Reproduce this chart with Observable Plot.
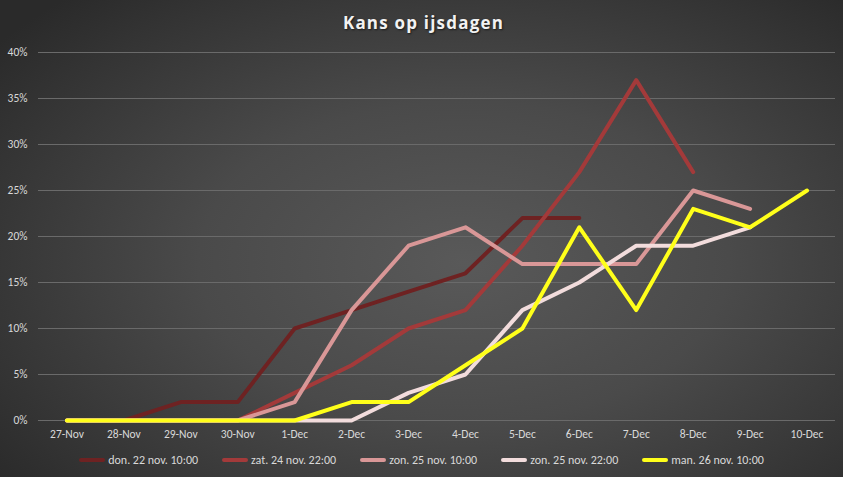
<!DOCTYPE html>
<html><head><meta charset="utf-8">
<script src="https://cdn.jsdelivr.net/npm/d3@7"></script>
<script src="https://cdn.jsdelivr.net/npm/@observablehq/plot@0.6"></script>
<style>
html,body{margin:0;padding:0;}
#wrap{width:843px;height:477px;position:relative;overflow:hidden;
 background:radial-gradient(ellipse 70% 75% at 55% 55%, #595959 0%, #4a4a4a 45%, #333333 85%, #2a2a2a 100%);
 font-family:Carlito,"Liberation Sans Narrow","Open Sans",sans-serif;}
#title{height:44px;line-height:46px;text-align:center;color:#f2f2f2;font-family:"Open Sans",sans-serif;font-weight:700;font-size:17px;letter-spacing:1.2px;text-shadow:1px 1px 2px rgba(0,0,0,0.6);padding-left:4px;}
#legend{position:absolute;top:453px;left:0;width:843px;display:flex;justify-content:center;gap:0;color:#d9d9d9;font-size:12px;}
.item{display:flex;align-items:center;margin:0 12px;}
.sw{width:26px;height:4px;margin-right:3px;border-radius:2px;}
svg{display:block;background:transparent;}
</style></head>
<body><div id="wrap"><div id="title">Kans op ijsdagen</div><div id="chart"></div><div id="legend"></div></div>
<script>
const dates = ["27-Nov","28-Nov","29-Nov","30-Nov","1-Dec","2-Dec","3-Dec","4-Dec","5-Dec","6-Dec","7-Dec","8-Dec","9-Dec","10-Dec"];
const seriesNames = ["don. 22 nov. 10:00","zat. 24 nov. 22:00","zon. 25 nov. 10:00","zon. 25 nov. 22:00","man. 26 nov. 10:00"];
const colors = ["#6e2222","#a33a3a","#d99797","#f2dcdc","#ffff1a"];
const don22 = [0,0,2,2,10,12,14,16,22,22];
const zat24 = [0,0,0,0,3,6,10,12,19,27,37,27];
const zon25a = [0,0,0,0,2,12,19,21,17,17,17,25,23];
const zon25b = [0,0,0,0,0,0,3,5,12,15,19,19,21];
const man26 = [0,0,0,0,0,2,2,6,10,21,12,23,21,25];
const yTicks = [0,5,10,15,20,25,30,35,40];

const allVals = [don22,zat24,zon25a,zon25b,man26];
const data = [];
allVals.forEach((arr,si)=>arr.forEach((v,i)=>data.push({series:seriesNames[si],date:dates[i],value:v/100})));

const chart = Plot.plot({
  width:843, height:400,
  marginLeft:38, marginRight:8, marginTop:8, marginBottom:24,
  style:{background:"transparent",color:"#d9d9d9",fontFamily:"Carlito,'Liberation Sans Narrow','Open Sans',sans-serif",fontSize:"11.5px"},
  x:{type:"point",domain:dates,padding:0.5,round:false,label:null,tickSize:0,tickPadding:9},
  y:{domain:[0,0.4],label:null,tickFormat:d=>Math.round(d*100)+"%",ticks:yTicks.map(t=>t/100),tickSize:0,tickPadding:11},
  color:{domain:seriesNames,range:colors},
  marks:[
    Plot.ruleY(yTicks.map(t=>t/100),{stroke:"#6a6a6a",strokeWidth:1}),
    Plot.axisX({tickSize:0,tickPadding:9,fontSize:11.5}),
    Plot.axisY({ticks:yTicks.map(t=>t/100),tickFormat:d=>Math.round(d*100)+"%",tickSize:0,tickPadding:11,fontSize:11.5}),
    Plot.lineY(data,{x:"date",y:"value",z:"series",stroke:"series",strokeWidth:4,strokeLinejoin:"round",strokeLinecap:"round"})
  ]
});
document.getElementById("chart").appendChild(chart);

const leg = document.getElementById("legend");
seriesNames.forEach((n,i)=>{
  const it=document.createElement("div");it.className="item";
  it.innerHTML=`<span class="sw" style="background:${colors[i]}"></span><span>${n}</span>`;
  leg.appendChild(it);
});
</script></body></html>
